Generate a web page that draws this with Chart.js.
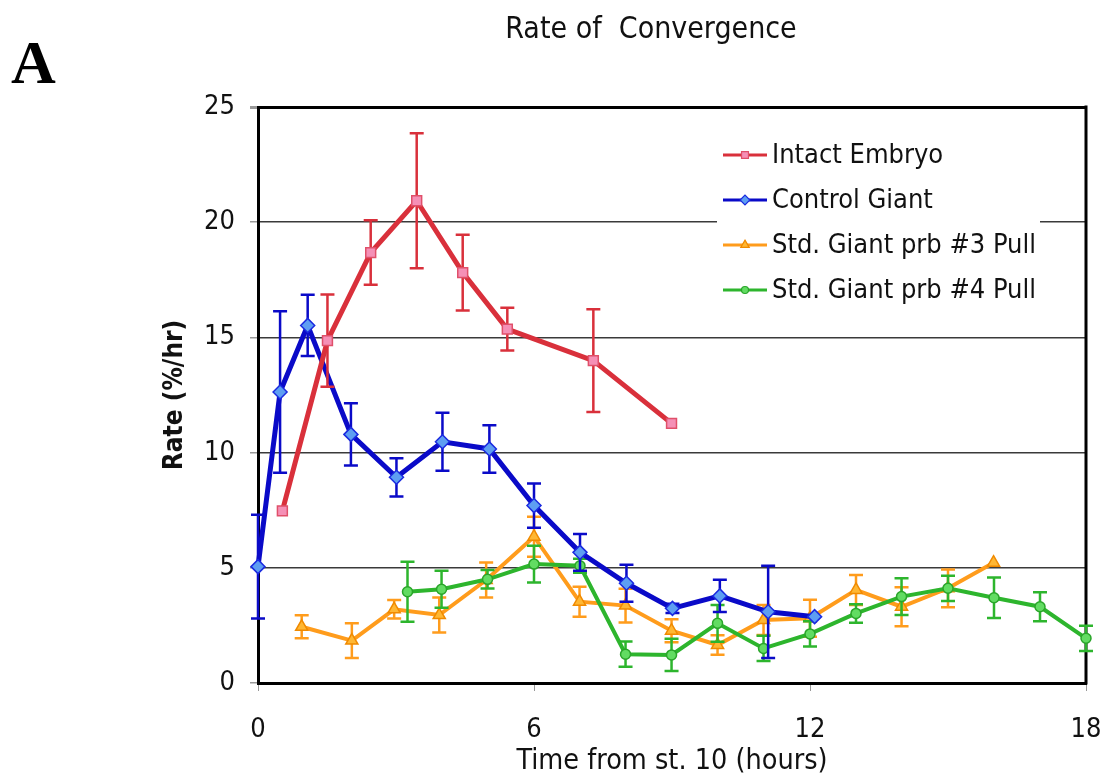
<!DOCTYPE html>
<html>
<head>
<meta charset="utf-8">
<script src="https://cdn.jsdelivr.net/npm/chart.js@4"></script>
<style>
  html, body { margin: 0; padding: 0; background: #fff; }
  canvas { display: block; }
</style>
</head>
<body>
<canvas id="rate-chart" width="1108" height="780"></canvas>
<script>
// values (hours from st. 10, rate in %/hr, +/- error)
var intactX = [0.53, 1.51, 2.45, 3.45, 4.45, 5.42, 7.29, 8.99];
var intactY = [7.47, 14.86, 18.68, 20.93, 17.81, 15.36, 13.99, 11.27];
var intactErr = [0, 2.0, 1.4, 2.93, 1.64, 0.93, 2.23, 0];

var controlX = [0, 0.48, 1.08, 2.02, 3.01, 4.01, 5.03, 6.0, 7.0, 8.01, 9.01, 10.04, 11.09, 12.1];
var controlY = [5.05, 12.63, 15.52, 10.79, 8.93, 10.47, 10.16, 7.7, 5.67, 4.33, 3.24, 3.78, 3.09, 2.88];
var controlErr = [2.25, 3.5, 1.33, 1.35, 0.83, 1.26, 1.03, 0.96, 0.8, 0.8, 0.2, 0.7, 2.0, 0];

var pull3X = [0.95, 2.04, 2.96, 3.94, 4.96, 6.0, 6.99, 7.99, 8.99, 9.99, 10.99, 12.0, 13.0, 13.99, 15.0, 15.99];
var pull3Y = [2.44, 1.84, 3.2, 2.95, 4.47, 6.35, 3.53, 3.36, 2.27, 1.65, 2.73, 2.81, 4.04, 3.31, 4.11, 5.22];
var pull3Err = [0.5, 0.75, 0.4, 0.76, 0.76, 0.87, 0.65, 0.73, 0.5, 0.42, 0.65, 0.8, 0.65, 0.85, 0.82, 0];

var pull4X = [3.25, 3.99, 4.99, 6.0, 7.0, 7.99, 8.99, 9.99, 10.99, 12.0, 13.0, 13.99, 15.0, 16.0, 17.0, 18.0];
var pull4Y = [3.96, 4.07, 4.5, 5.16, 5.09, 1.25, 1.22, 2.59, 1.5, 2.13, 3.02, 3.75, 4.11, 3.7, 3.31, 1.94];
var pull4Err = [1.3, 0.8, 0.4, 0.8, 0.3, 0.55, 0.7, 0.8, 0.55, 0.55, 0.4, 0.8, 0.55, 0.88, 0.63, 0.55];

var seriesNames = ["Intact Embryo", "Control Giant", "Std. Giant prb #3 Pull", "Std. Giant prb #4 Pull"];
var xTickStep = 6;
var yTickStep = 5;

var sansFont = '"DejaVu Sans Condensed", "DejaVu Sans", sans-serif';

function points(xs, ys) {
  return xs.map(function (x, i) {
    return { x: x, y: ys[i] };
  });
}

// vertical error bars with caps, drawn just under each series
var errorBars = {
  id: "errorBars",
  beforeDatasetDraw: function (chart, args) {
    var ds = chart.data.datasets[args.index];
    if (!ds.errors) return;
    var ctx = chart.ctx;
    var xs = chart.scales.x;
    var ys = chart.scales.y;
    ctx.save();
    ctx.strokeStyle = ds.borderColor;
    ctx.lineWidth = 2.5;
    ds.data.forEach(function (p, i) {
      var e = ds.errors[i];
      if (!e) return;
      var px = xs.getPixelForValue(p.x);
      var top = ys.getPixelForValue(p.y + e);
      var bot = ys.getPixelForValue(p.y - e);
      ctx.beginPath();
      ctx.moveTo(px, top);
      ctx.lineTo(px, bot);
      ctx.moveTo(px - 7, top);
      ctx.lineTo(px + 7, top);
      ctx.moveTo(px - 7, bot);
      ctx.lineTo(px + 7, bot);
      ctx.stroke();
    });
    ctx.restore();
  },
};

// right edge of the frame, the legend box, title and panel letter
var decorations = {
  id: "decorations",
  beforeDatasetsDraw: function (chart) {
    var ctx = chart.ctx;
    var area = chart.chartArea;
    ctx.save();
    ctx.strokeStyle = "#000";
    ctx.lineWidth = 3;
    ctx.beginPath();
    ctx.moveTo(area.right, area.top - 1.5);
    ctx.lineTo(area.right, area.bottom + 1.5);
    ctx.stroke();

    // legend
    ctx.fillStyle = "#fff";
    ctx.fillRect(717, 134, 323, 178);
    chart.data.datasets.forEach(function (ds, i) {
      var y = 155 + i * 45;
      ctx.strokeStyle = ds.borderColor;
      ctx.lineWidth = 3;
      ctx.beginPath();
      ctx.moveTo(723, y);
      ctx.lineTo(767, y);
      ctx.stroke();
      ctx.fillStyle = ds.pointBackgroundColor;
      ctx.strokeStyle = ds.pointBorderColor;
      ctx.lineWidth = 1.2;
      Chart.helpers.drawPoint(ctx, {
        pointStyle: ds.pointStyle,
        radius: ds.pointRadius * 0.7,
        borderWidth: 1.2,
        rotation: 0,
      }, 745, y);
      ctx.fillStyle = "#111";
      ctx.font = "27px " + sansFont;
      ctx.textAlign = "left";
      ctx.textBaseline = "middle";
      ctx.fillText(ds.label, 772, y + 1);
    });

    ctx.fillStyle = "#111";
    ctx.font = "30px " + sansFont;
    ctx.textAlign = "center";
    ctx.textBaseline = "alphabetic";
    ctx.fillText("Rate of  Convergence", 651, 38);

    ctx.fillStyle = "#000";
    ctx.font = 'bold 62px "Liberation Serif", "DejaVu Serif", serif';
    ctx.textAlign = "left";
    ctx.fillText("A", 11, 83);
    ctx.restore();
  },
};

var ctx = document.getElementById("rate-chart").getContext("2d");

var common = {
  tension: 0,
  clip: false,
  pointBorderWidth: 1.5,
  pointHoverRadius: 7,
};

new Chart(ctx, {
  type: "line",
  data: {
    datasets: [
      {
        ...common,
        label: seriesNames[0],
        data: points(intactX, intactY),
        errors: intactErr,
        borderColor: "#d9303b",
        backgroundColor: "#f590b6",
        pointBackgroundColor: "#f590b6",
        pointBorderColor: "#e0506a",
        pointStyle: "rect",
        pointRadius: 7,
        borderWidth: 5,
        order: 1,
      },
      {
        ...common,
        label: seriesNames[1],
        data: points(controlX, controlY),
        errors: controlErr,
        borderColor: "#0a0ac8",
        backgroundColor: "#5e9ef2",
        pointBackgroundColor: "#5e9ef2",
        pointBorderColor: "#1a2ae0",
        pointStyle: "rectRot",
        pointRadius: 7,
        borderWidth: 5,
        order: 2,
      },
      {
        ...common,
        label: seriesNames[2],
        data: points(pull3X, pull3Y),
        errors: pull3Err,
        borderColor: "#ff9c1c",
        backgroundColor: "#ffb733",
        pointBackgroundColor: "#ffb733",
        pointBorderColor: "#f08a00",
        pointStyle: "triangle",
        pointRadius: 7,
        borderWidth: 4,
        order: 4,
      },
      {
        ...common,
        label: seriesNames[3],
        data: points(pull4X, pull4Y),
        errors: pull4Err,
        borderColor: "#2db52d",
        backgroundColor: "#62dc62",
        pointBackgroundColor: "#62dc62",
        pointBorderColor: "#2aa52a",
        pointStyle: "circle",
        pointRadius: 5,
        borderWidth: 4,
        order: 3,
      },
    ],
  },
  options: {
    responsive: false,
    animation: false,
    layout: {
      padding: { left: 0, right: 22, top: 107, bottom: 0 },
    },
    plugins: {
      legend: { display: false },
      title: { display: false },
      tooltip: { enabled: false },
    },
    scales: {
      x: {
        type: "linear",
        min: 0,
        max: 18,
        afterFit: function (scale) {
          scale.height = 97;
          // let the "18" label hang into the right margin
          scale.paddingRight = 0;
          scale.paddingLeft = 0;
        },
        ticks: {
          stepSize: xTickStep,
          maxRotation: 0,
          padding: 23,
          color: "#111",
          font: { family: sansFont, size: 27 },
        },
        grid: {
          drawOnChartArea: false,
          tickLength: 8,
          color: "#999",
        },
        border: { color: "#000", width: 3 },
        title: {
          display: true,
          text: "Time from st. 10 (hours)",
          color: "#111",
          font: { family: sansFont, size: 28.5 },
          padding: { top: 0, bottom: 1 },
        },
      },
      y: {
        min: 0,
        max: 25,
        afterFit: function (scale) {
          scale.width = 258;
        },
        ticks: {
          stepSize: yTickStep,
          padding: 15,
          color: "#111",
          font: { family: sansFont, size: 27 },
        },
        grid: {
          tickLength: 8,
          tickColor: "#999",
          color: function (c) {
            return c.tick && c.tick.value === 25 ? "#000" : "#3a3a3a";
          },
          lineWidth: function (c) {
            return c.tick && c.tick.value === 25 ? 3 : 1.5;
          },
        },
        border: { color: "#000", width: 3 },
        title: {
          display: true,
          text: "Rate (%/hr)",
          color: "#111",
          font: { family: sansFont, size: 26, weight: "bold" },
          padding: { top: 160, bottom: 0 },
        },
      },
    },
  },
  plugins: [errorBars, decorations],
});
</script>
</body>
</html>
